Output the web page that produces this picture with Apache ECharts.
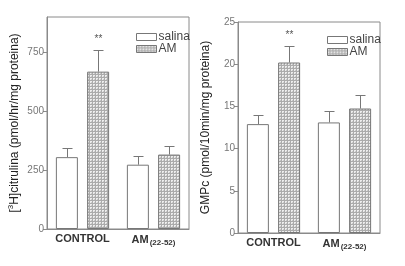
<!DOCTYPE html>
<html>
<head>
<meta charset="utf-8">
<script src="https://cdn.jsdelivr.net/npm/echarts@6/dist/echarts.min.js"></script>
<style>
  html, body { margin: 0; padding: 0; background: #fff; }
  #chart { width: 405px; height: 266px; }
</style>
</head>
<body>
<div id="chart"></div>
<script>
var categories = ['CONTROL', 'AM(22-52)'];
var seriesNames = ['salina', 'AM'];

// left panel: [3H]citrulina
var citSalina = [305, 273];
var citSalinaErr = [38, 35];
var citAM = [668, 316];
var citAMErr = [90, 38];
var citTicks = [0, 250, 500, 750];

// right panel: GMPc
var gmpSalina = [12.9, 13.1];
var gmpSalinaErr = [1.1, 1.4];
var gmpAM = [20.2, 14.75];
var gmpAMErr = [2.0, 1.6];
var gmpTicks = [0, 5, 10, 15, 20, 25];

var sigMarks = ['**', ''];

var chart = echarts.init(document.getElementById('chart'));

// hatched fill for AM bars (small grid of light cells)
var pat = document.createElement('canvas');
pat.width = 3; pat.height = 3;
var pctx = pat.getContext('2d');
pctx.fillStyle = '#ababab';
pctx.fillRect(0, 0, 3, 3);
pctx.fillStyle = '#ededed';
pctx.fillRect(0, 0, 2, 2);
pctx.fillStyle = '#c8c8c8';
pctx.fillRect(1, 1, 1, 1);

var FONT = 'Liberation Sans, Arial, sans-serif';
var lineCol = '#8a8a8a';

function barSeries(name, data, idx, fill) {
  return {
    name: name,
    type: 'bar',
    xAxisIndex: idx,
    yAxisIndex: idx,
    data: data,
    barWidth: 22,
    barGap: '42%',
    itemStyle: { color: fill, borderColor: '#777', borderWidth: 1 },
    emphasis: { disabled: true },
    z: 2
  };
}

function errSeries(means, errs, idx, side, marks) {
  var pts = means.map(function (m, i) { return [i, m, errs[i]]; });
  return {
    type: 'custom',
    xAxisIndex: idx,
    yAxisIndex: idx,
    data: pts,
    encode: { x: 0, y: 1 },
    silent: true,
    z: 3,
    renderItem: function (params, api) {
      var base = api.coord([api.value(0), api.value(1)]);
      var top = api.coord([api.value(0), api.value(1) + api.value(2)]);
      var x = Math.round(base[0] + side * 15.5) + 0.5;
      var ty = Math.round(top[1]) + 0.5;
      var kids = [
        { type: 'line', shape: { x1: x, y1: base[1], x2: x, y2: ty }, style: { stroke: '#777', lineWidth: 1 } },
        { type: 'line', shape: { x1: x - 5, y1: ty, x2: x + 5, y2: ty }, style: { stroke: '#777', lineWidth: 1 } }
      ];
      if (marks && marks[params.dataIndex]) {
        kids.push({ type: 'text', style: { text: marks[params.dataIndex], x: x, y: ty - 11, align: 'center', verticalAlign: 'middle', fill: '#555', font: '10px ' + FONT } });
      }
      return { type: 'group', children: kids };
    }
  };
}

function xAxisCfg(idx) {
  return {
    type: 'category',
    gridIndex: idx,
    data: categories,
    axisLine: { lineStyle: { color: lineCol } },
    axisTick: { show: false },
    axisLabel: {
      interval: 0,
      margin: 4,
      color: '#333',
      fontFamily: FONT,
      fontWeight: 'bold',
      fontSize: 11,
      formatter: function (v) {
        return v === 'AM(22-52)' ? 'AM{sub|(22-52)}' : v;
      },
      rich: { sub: { fontSize: 8, color: '#333', fontFamily: FONT, padding: [6, 0, 0, 1] } }
    }
  };
}

function yAxisCfg(idx, max, ticks, name, gap) {
  return {
    type: 'value',
    gridIndex: idx,
    min: 0,
    max: max,
    name: name,
    nameLocation: 'middle',
    nameRotate: 90,
    nameGap: gap,
    nameTextStyle: {
      color: '#222', fontSize: 12, fontFamily: FONT,
      rich: { sup: { fontSize: 8, color: '#222', fontFamily: FONT, padding: [0, 0, 7, 0] } }
    },
    splitLine: { show: false },
    axisLine: { show: true, lineStyle: { color: lineCol } },
    axisTick: { show: true, length: 4, customValues: ticks, lineStyle: { color: lineCol } },
    axisLabel: { customValues: ticks, color: '#777', fontSize: 10, fontFamily: FONT, margin: 3 }
  };
}

function legendCfg(left, top) {
  return {
    left: left, top: top, orient: 'vertical', icon: 'rect',
    itemWidth: 20, itemHeight: 7, itemGap: 0, selectedMode: false,
    itemStyle: { borderWidth: 1, borderColor: '#777' },
    data: seriesNames,
    textStyle: { color: '#444', fontSize: 12, lineHeight: 12, padding: [0, 0, 0, -3] }
  };
}

chart.setOption({
  animation: false,
  textStyle: { fontFamily: FONT },
  grid: [
    { left: 47, top: 17, width: 142, height: 212, show: true, borderColor: lineCol, borderWidth: 1 },
    { left: 238, top: 22, width: 142, height: 211, show: true, borderColor: lineCol, borderWidth: 1 }
  ],
  legend: [legendCfg(131, 26), legendCfg(322, 29)],
  xAxis: [xAxisCfg(0), xAxisCfg(1)],
  yAxis: [
    yAxisCfg(0, 900, citTicks, '[{sup|3}H]citrulina (pmol/hr/mg proteina)', 25),
    yAxisCfg(1, 25, gmpTicks, 'GMPc (pmol/10min/mg proteina)', 26)
  ],
  series: [
    barSeries('salina', citSalina, 0, '#fff'),
    barSeries('AM', citAM, 0, { image: pat, repeat: 'repeat' }),
    errSeries(citSalina, citSalinaErr, 0, -1, null),
    errSeries(citAM, citAMErr, 0, 1, sigMarks),
    barSeries('salina', gmpSalina, 1, '#fff'),
    barSeries('AM', gmpAM, 1, { image: pat, repeat: 'repeat' }),
    errSeries(gmpSalina, gmpSalinaErr, 1, -1, null),
    errSeries(gmpAM, gmpAMErr, 1, 1, sigMarks)
  ]
});
</script>
</body>
</html>
